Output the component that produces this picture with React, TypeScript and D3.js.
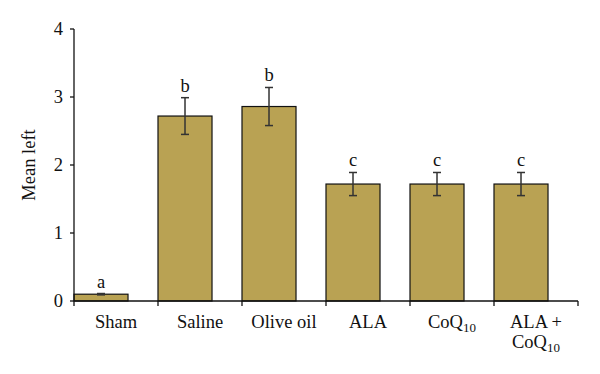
import React from "react";
import * as d3 from "d3";

const categories = ["Sham", "Saline", "Olive oil", "ALA", "CoQ10", "ALA + CoQ10"];
const values = [0.1, 2.72, 2.86, 1.72, 1.72, 1.72];
const errors = [0.01, 0.27, 0.28, 0.17, 0.17, 0.17];
const letters = ["a", "b", "b", "c", "c", "c"];
const yTicks = [0, 1, 2, 3, 4];

const W = 600, H = 374;
const left = 74, right = 578, top = 29, bottom = 301;
const FONT = "'Liberation Serif', 'Times New Roman', serif";
const FS = 18.5;

function Label({ name, x }: { name: string; x: number }) {
  const renderPart = (s: string) => {
    const idx = s.indexOf("CoQ10");
    if (idx < 0) return <>{s}</>;
    return (
      <>
        {s.slice(0, idx)}CoQ
        <tspan fontSize={13} dy={4}>10</tspan>
      </>
    );
  };
  if (name === "ALA + CoQ10") {
    return (
      <g fontFamily={FONT} fontSize={FS} fill="#111">
        <text x={x} y={328} textAnchor="middle">ALA +</text>
        <text x={x} y={348} textAnchor="middle">{renderPart("CoQ10")}</text>
      </g>
    );
  }
  return (
    <text x={x} y={328} textAnchor="middle" fontFamily={FONT} fontSize={FS} fill="#111">
      {renderPart(name)}
    </text>
  );
}

export default function App() {
  const x = d3.scaleBand<string>().domain(categories).range([left, right]).padding(0);
  const y = d3.scaleLinear().domain([0, 4]).range([bottom, top]);
  const bw = x.bandwidth();
  const barW = bw * 0.643;

  return (
    <svg width={W} height={H} style={{ position: "absolute", left: 0, top: 0, background: "#fff" }}>
      {categories.map((c, i) => {
        const x0 = x(c)!;
        const cx = x0 + barW / 2;
        const v = values[i];
        const e = errors[i];
        return (
          <g key={c}>
            <rect x={x0} y={y(v)} width={barW} height={y(0) - y(v)} fill="#b9a253" stroke="#111" strokeWidth={1.2} />
            <line x1={cx} x2={cx} y1={y(v + e)} y2={y(v - e)} stroke="#333" strokeWidth={1.5} />
            <line x1={cx - 4} x2={cx + 4} y1={y(v + e)} y2={y(v + e)} stroke="#333" strokeWidth={1.5} />
            <line x1={cx - 4} x2={cx + 4} y1={y(v - e)} y2={y(v - e)} stroke="#333" strokeWidth={1.5} />
            <text x={cx} y={y(v + e) - 6} textAnchor="middle" fontFamily={FONT} fontSize={FS} fill="#111">
              {letters[i]}
            </text>
          </g>
        );
      })}
      {/* y axis */}
      <line x1={left} x2={left} y1={top} y2={bottom} stroke="#111" strokeWidth={1.3} />
      {yTicks.map((t) => (
        <g key={t}>
          <line x1={left - 4} x2={left} y1={y(t)} y2={y(t)} stroke="#111" strokeWidth={1.3} />
          <text x={63} y={y(t)} dy="0.35em" textAnchor="end" fontFamily={FONT} fontSize={FS} fill="#111">
            {t}
          </text>
        </g>
      ))}
      {/* x axis */}
      <line x1={left} x2={right} y1={bottom} y2={bottom} stroke="#111" strokeWidth={1.3} />
      {[...categories.map((c) => x(c)!), right].map((px, i) => (
        <line key={i} x1={px} x2={px} y1={bottom} y2={bottom + 5} stroke="#111" strokeWidth={1.3} />
      ))}
      {categories.map((c) => (
        <Label key={c} name={c} x={x(c)! + bw / 2} />
      ))}
      <text
        transform={`translate(35,165) rotate(-90)`}
        textAnchor="middle"
        fontFamily={FONT}
        fontSize={FS}
        fill="#111"
      >
        Mean left
      </text>
    </svg>
  );
}
